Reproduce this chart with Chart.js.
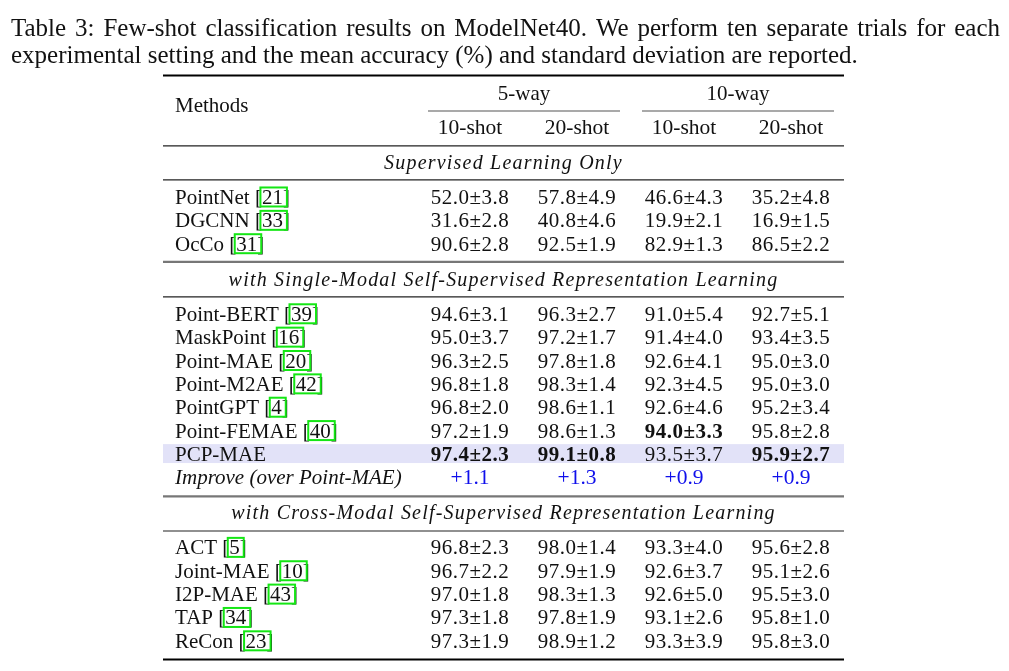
<!DOCTYPE html>
<html>
<head>
<meta charset="utf-8">
<script src="https://cdn.jsdelivr.net/npm/chart.js@4.4.1/dist/chart.umd.min.js"></script>
<style>
  html, body { margin: 0; padding: 0; background: #fff; }
  canvas { display: block; }
</style>
</head>
<body>
<canvas id="fewShotTable" width="1009" height="671"></canvas>
<script>
// table data
const caption = [
    'Table 3: Few-shot classification results on ModelNet40. We perform ten separate trials for each',
    'experimental setting and the mean accuracy (%) and standard deviation are reported.'
];
const wayHeads = ['5-way', '10-way'];
const shotHeads = ['10-shot', '20-shot', '10-shot', '20-shot'];
const sections = [
    'Supervised Learning Only',
    'with Single-Modal Self-Supervised Representation Learning',
    'with Cross-Modal Self-Supervised Representation Learning'
];
const methods = ['PointNet', 'DGCNN', 'OcCo', 'Point-BERT', 'MaskPoint', 'Point-MAE', 'Point-M2AE',
    'PointGPT', 'Point-FEMAE', 'PCP-MAE', 'ACT', 'Joint-MAE', 'I2P-MAE', 'TAP', 'ReCon'];
const cites = ['21', '33', '31', '39', '16', '20', '42', '4', '40', '', '5', '10', '43', '34', '23'];
const groupOf = [0, 0, 0, 1, 1, 1, 1, 1, 1, 1, 2, 2, 2, 2, 2];

const mean5w10 = [52.0, 31.6, 90.6, 94.6, 95.0, 96.3, 96.8, 96.8, 97.2, 97.4, 96.8, 96.7, 97.0, 97.3, 97.3];
const std5w10 = [3.8, 2.8, 2.8, 3.1, 3.7, 2.5, 1.8, 2.0, 1.9, 2.3, 2.3, 2.2, 1.8, 1.8, 1.9];
const mean5w20 = [57.8, 40.8, 92.5, 96.3, 97.2, 97.8, 98.3, 98.6, 98.6, 99.1, 98.0, 97.9, 98.3, 97.8, 98.9];
const std5w20 = [4.9, 4.6, 1.9, 2.7, 1.7, 1.8, 1.4, 1.1, 1.3, 0.8, 1.4, 1.9, 1.3, 1.9, 1.2];
const mean10w10 = [46.6, 19.9, 82.9, 91.0, 91.4, 92.6, 92.3, 92.6, 94.0, 93.5, 93.3, 92.6, 92.6, 93.1, 93.3];
const std10w10 = [4.3, 2.1, 1.3, 5.4, 4.0, 4.1, 4.5, 4.6, 3.3, 3.7, 4.0, 3.7, 5.0, 2.6, 3.9];
const mean10w20 = [35.2, 16.9, 86.5, 92.7, 93.4, 95.0, 95.0, 95.2, 95.8, 95.9, 95.6, 95.1, 95.5, 95.8, 95.8];
const std10w20 = [4.8, 1.5, 2.2, 5.1, 3.5, 3.0, 3.0, 3.4, 2.8, 2.7, 2.8, 2.6, 3.0, 1.0, 3.0];
const improveLabel = 'Improve (over Point-MAE)';
const improve = ['+1.1', '+1.3', '+0.9', '+0.9'];

const means = [mean5w10, mean5w20, mean10w10, mean10w20];
const stds = [std5w10, std5w20, std10w10, std10w20];

// layout (x in table units from the left rule, y in row units, baseline based)
const methodsX = 12;
const colX = [307, 414, 521, 628];
const waySpans = [[265, 457], [479, 671]];
const rowPos = [3, 4, 5, 8, 9, 10, 11, 12, 13, 14, 18, 19, 20, 21, 22];
const sectionPos = [1.5, 6.5, 16.5];
const improvePos = 15;
const highlightRow = 9;
const rules = [
    { at: -2.5, w: 2, color: '#000' },
    { at: 0.51, w: 1.2, color: '#222' },
    { at: 1.97, w: 1.2, color: '#222' },
    { at: 5.48, w: 2.2, color: '#777' },
    { at: 6.98, w: 1.2, color: '#222' },
    { at: 15.52, w: 2.2, color: '#777' },
    { at: 17.0, w: 1.2, color: '#222' },
    { at: 22.5, w: 2, color: '#000' }
];

const FONT = '"Liberation Serif", "Times New Roman", serif';
const TEXT = '#111';

// best mean per column inside the single-modal group gets bold
const best = means.map(col => Math.max(...col.filter((v, i) => groupOf[i] === 1)));

const tablePlugin = {
    id: 'tableText',
    beforeDatasetsDraw(chart) {
        const { ctx, chartArea: a, scales: { y } } = chart;
        const r = rowPos[highlightRow];
        ctx.save();
        ctx.fillStyle = 'rgb(226,226,248)';
        const top = y.getPixelForValue(r - 0.72);
        const bot = y.getPixelForValue(r + 0.09);
        ctx.fillRect(a.left, top, a.right - a.left, bot - top);
        ctx.restore();
    },
    afterDatasetsDraw(chart) {
        const { ctx, chartArea: a, scales: { x, y } } = chart;
        ctx.save();
        ctx.fillStyle = TEXT;
        ctx.textBaseline = 'alphabetic';

        // caption, first line justified
        ctx.font = '25px ' + FONT;
        ctx.textAlign = 'left';
        const words = caption[0].split(' ');
        const wsum = words.reduce((s, w) => s + ctx.measureText(w).width, 0);
        const gap = (1000 - 11 - wsum) / (words.length - 1);
        let cx = 11;
        words.forEach(w => { ctx.fillText(w, cx, 36); cx += ctx.measureText(w).width + gap; });
        ctx.fillText(caption[1], 11, 63);

        // rules
        rules.forEach(r => {
            const py = y.getPixelForValue(r.at);
            ctx.strokeStyle = r.color;
            ctx.lineWidth = r.w;
            ctx.beginPath();
            ctx.moveTo(a.left, py);
            ctx.lineTo(a.right, py);
            ctx.stroke();
        });
        ctx.strokeStyle = '#555';
        ctx.lineWidth = 1.1;
        waySpans.forEach(s => {
            const py = y.getPixelForValue(-0.98);
            ctx.beginPath();
            ctx.moveTo(x.getPixelForValue(s[0]), py);
            ctx.lineTo(x.getPixelForValue(s[1]), py);
            ctx.stroke();
        });

        // header
        ctx.font = '21px ' + FONT;
        ctx.textAlign = 'left';
        ctx.fillText('Methods', x.getPixelForValue(methodsX), y.getPixelForValue(-0.95));
        ctx.textAlign = 'center';
        wayHeads.forEach((h, i) => {
            ctx.fillText(h, x.getPixelForValue((waySpans[i][0] + waySpans[i][1]) / 2), y.getPixelForValue(-1.46));
        });
        ctx.font = '21.5px ' + FONT;
        shotHeads.forEach((h, i) => ctx.fillText(h, x.getPixelForValue(colX[i]), y.getPixelForValue(0)));

        // section headers
        ctx.font = 'italic 20px ' + FONT;
        ctx.letterSpacing = '1.2px';
        sections.forEach((s, i) => ctx.fillText(s, (a.left + a.right) / 2, y.getPixelForValue(sectionPos[i])));

        // value columns
        ctx.letterSpacing = '0.5px';
        for (let c = 0; c < 4; c++) {
            const meta = chart.getDatasetMeta(c);
            meta.data.forEach((pt, i) => {
                const bold = groupOf[i] === 1 && means[c][i] === best[c];
                ctx.font = (bold ? 'bold ' : '') + '21px ' + FONT;
                ctx.textAlign = 'center';
                ctx.fillStyle = TEXT;
                ctx.fillText(means[c][i].toFixed(1) + '±' + stds[c][i].toFixed(1), pt.x, pt.y);
            });
        }
        ctx.letterSpacing = '0px';

        // method names with cite boxes
        ctx.font = '21px ' + FONT;
        ctx.textAlign = 'left';
        chart.getDatasetMeta(4).data.forEach((pt, i) => {
            ctx.fillStyle = TEXT;
            if (!cites[i]) { ctx.fillText(methods[i], pt.x, pt.y); return; }
            const head = methods[i] + ' [';
            ctx.fillText(head, pt.x, pt.y);
            const nx = pt.x + ctx.measureText(head).width;
            const nw = ctx.measureText(cites[i]).width;
            ctx.fillText(cites[i] + ']', nx, pt.y);
            ctx.strokeStyle = 'rgb(20,230,20)';
            ctx.lineWidth = 2;
            ctx.strokeRect(nx - 1.5, pt.y - 16.5, nw + 5.5, 19);
        });

        // improve row
        ctx.font = 'italic 21px ' + FONT;
        ctx.fillStyle = TEXT;
        ctx.fillText(improveLabel, x.getPixelForValue(methodsX), y.getPixelForValue(improvePos));
        ctx.font = '21.5px ' + FONT;
        ctx.textAlign = 'center';
        ctx.fillStyle = 'rgb(15,15,235)';
        chart.getDatasetMeta(5).data.forEach((pt, i) => ctx.fillText(improve[i], pt.x, pt.y));

        ctx.restore();
    }
};

const colDatasets = colX.map((cxv, c) => ({
    label: shotHeads[c],
    data: methods.map((m, i) => ({ x: cxv, y: rowPos[i] })),
    pointRadius: 0
}));

new Chart(document.getElementById('fewShotTable').getContext('2d'), {
    type: 'scatter',
    data: {
        datasets: [
            ...colDatasets,
            { label: 'Methods', data: methods.map((m, i) => ({ x: methodsX, y: rowPos[i] })), pointRadius: 0 },
            { label: 'Improve', data: improve.map((v, i) => ({ x: colX[i], y: improvePos })), pointRadius: 0 }
        ]
    },
    options: {
        responsive: false,
        animation: false,
        events: [],
        layout: { padding: { left: 163, right: 165, top: 75.5, bottom: 11.5 } },
        plugins: { legend: { display: false }, tooltip: { enabled: false }, title: { display: false } },
        scales: {
            x: { type: 'linear', min: 0, max: 681, display: false },
            y: { type: 'linear', min: -2.5, max: 22.5, reverse: true, display: false }
        }
    },
    plugins: [tablePlugin]
});
</script>
</body>
</html>
